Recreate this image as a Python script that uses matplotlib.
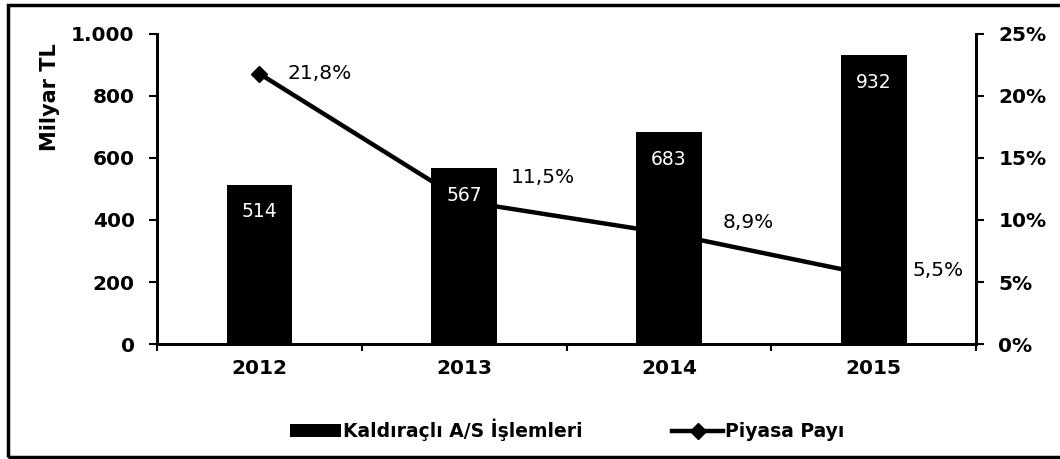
import matplotlib.pyplot as plt
import matplotlib.patches as patches
import numpy as np

years = ['2012', '2013', '2014', '2015']
volume = [514, 567, 683, 932]          # Milyar TL
share = [21.8, 11.5, 8.9, 5.5]          # %
share_labels = ['21,8%', '11,5%', '8,9%', '5,5%']
y_ticks = [0, 200, 400, 600, 800, 1000]
y_ticklabels = ['0', '200', '400', '600', '800', '1.000']
pct_ticks = [0, 5, 10, 15, 20, 25]

fig = plt.figure(figsize=(10.6, 4.59), dpi=100)
ax = fig.add_axes([0.148, 0.2505, 0.773, 0.6755])
ax2 = ax.twinx()
# bars sit on top of the line, like the original
ax.set_zorder(ax2.get_zorder() + 1)
ax.patch.set_visible(False)

x = np.arange(len(years))
bars = ax.bar(x, volume, width=0.32, color='black', zorder=2)
for xi, v in zip(x, volume):
    ax.annotate(str(v), (xi, v), xytext=(0, -27), textcoords='offset pixels',
                ha='center', va='center', color='white', fontsize=13.5, zorder=5)

line, = ax2.plot(x, share, color='black', lw=3.2, marker='D', markersize=8, zorder=3)
offs = [(28, 0), (47, 24), (54, 11), (39, 5)]
for xi, s, lab, (dx, dy) in zip(x, share, share_labels, offs):
    ax2.annotate(lab, (xi, s), xytext=(dx, dy), textcoords='offset pixels',
                 ha='left', va='center', fontsize=14.5, color='black')

ax.set_xlim(-0.5, 3.5)
ax.set_ylim(0, 1000)
ax2.set_ylim(0, 25)
ax.set_yticks(y_ticks)
ax.set_yticklabels(y_ticklabels, fontsize=14.5, fontweight='bold')
ax2.set_yticks(pct_ticks)
ax2.set_yticklabels([f'{p}%' for p in pct_ticks], fontsize=14.5, fontweight='bold')
ax.set_xticks(x)
ax.set_xticklabels(years, fontsize=14.5, fontweight='bold')
ax.set_xticks(np.arange(-0.5, 4.0, 1.0), minor=True)
ax.tick_params(axis='x', which='major', length=0, pad=11)
ax.tick_params(axis='x', which='minor', length=5, width=1.5, direction='out')
ax.tick_params(axis='y', length=6, width=1.5, pad=10)
ax2.tick_params(axis='y', length=6, width=1.5, pad=10)
ax.set_ylabel('Milyar TL', fontsize=15, fontweight='bold')
ax.yaxis.set_label_coords(-0.118, 0.797)

for a in (ax, ax2):
    a.spines['top'].set_visible(False)
    for s in ('left', 'right', 'bottom'):
        a.spines[s].set_linewidth(2)

fig.legend([bars, line], ['Kaldıraçlı A/S İşlemleri', 'Piyasa Payı'],
           loc='center', bbox_to_anchor=(0.535, 0.063), ncol=2, frameon=False,
           prop={'size': 13.5, 'weight': 'bold'}, columnspacing=4.8,
           handlelength=2.7, handletextpad=0.1)

fig.patches.append(patches.Rectangle((0.008, 0.004), 1.0, 0.985, transform=fig.transFigure,
                                     fill=False, edgecolor='black', lw=2.5))

fig.savefig('out.png', dpi=100, facecolor='white')
